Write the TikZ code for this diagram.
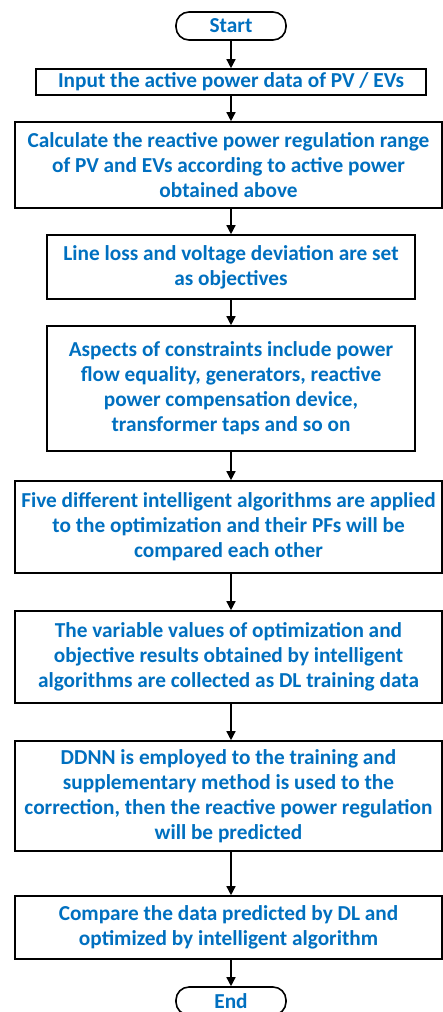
\documentclass[tikz,border=0pt]{standalone}
\usepackage{fontspec}
\setmainfont{Carlito}
\usetikzlibrary{arrows.meta}
\definecolor{txtblue}{RGB}{0,112,192}
\tikzset{
  box/.style={draw=black, line width=1.6pt, fill=white, inner sep=0pt,
    align=center, text=txtblue, font=\fontsize{21.3}{25}\selectfont\bfseries},
  term/.style={box, rounded corners=13pt},
  arr/.style={line width=1.4pt, -{Triangle[length=9pt,width=9pt]}},
}
\begin{document}
\begin{tikzpicture}[x=1pt,y=-1pt]
\useasboundingbox (0,0) rectangle (443,1012);

\node[term, minimum width=110pt, minimum height=28pt] (start) at (231,26) {Start};
\node[box, minimum width=390pt, minimum height=26pt] (b1) at (231,82)
  {Input the active power data of PV / EVs};
\node[box, minimum width=427pt, minimum height=86pt] (b2) at (228.5,165)
  {Calculate the reactive power regulation range\\of PV and EVs according to active power\\obtained above};
\node[box, minimum width=368pt, minimum height=64pt] (b3) at (231,267)
  {Line loss and voltage deviation are set\\as objectives};
\node[box, minimum width=368pt, minimum height=125pt] (b4) at (231,388.5)
  {Aspects of constraints include power\\flow equality, generators, reactive\\power compensation device,\\transformer taps and so on};
\node[box, minimum width=427pt, minimum height=92pt] (b5) at (228.5,527)
  {Five different intelligent algorithms are applied\\to the optimization and their PFs will be\\compared each other};
\node[box, minimum width=427pt, minimum height=92pt] (b6) at (228.5,657)
  {The variable values of optimization and\\objective results obtained by intelligent\\algorithms are collected as DL training data};
\node[box, minimum width=427pt, minimum height=110pt] (b7) at (228.5,796)
  {DDNN is employed to the training and\\supplementary method is used to the\\correction, then the reactive power regulation\\will be predicted};
\node[box, minimum width=427pt, minimum height=63pt] (b8) at (228.5,927.5)
  {Compare the data predicted by DL and\\optimized by intelligent algorithm};
\node[term, minimum width=110pt, minimum height=28pt] (end) at (231,1001) {End};

% connectors along the common vertical axis
\draw[arr] (start.south) -- (b1.north);
\draw[arr] (b1.south) -- (b1.south |- b2.north);
\draw[arr] (b3.north |- b2.south) -- (b3.north);
\draw[arr] (b3.south) -- (b4.north);
\draw[arr] (b4.south) -- (b4.south |- b5.north);
\draw[arr] (b4.south |- b5.south) -- (b4.south |- b6.north);
\draw[arr] (b4.south |- b6.south) -- (b4.south |- b7.north);
\draw[arr] (b4.south |- b7.south) -- (b4.south |- b8.north);
\draw[arr] (end.north |- b8.south) -- (end.north);
\end{tikzpicture}
\end{document}
